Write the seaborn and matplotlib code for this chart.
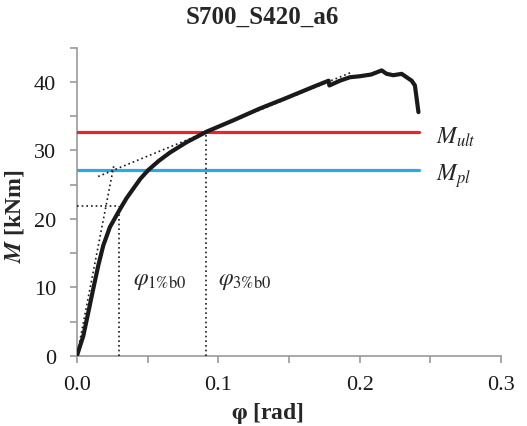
import matplotlib
matplotlib.use("Agg")
import matplotlib.pyplot as plt
import seaborn as sns
import pandas as pd
from matplotlib.ticker import MultipleLocator

# Moment-rotation response
phi = [0.0, 0.0045, 0.0080, 0.0115, 0.0151, 0.0186, 0.0233, 0.0304, 0.0350,
       0.0398, 0.0450, 0.0505, 0.0580, 0.0658, 0.0775, 0.0917, 0.1105,
       0.129, 0.146, 0.1695, 0.178, 0.1785, 0.186, 0.193, 0.200, 0.208,
       0.2155, 0.219, 0.2237, 0.2296, 0.2367, 0.239, 0.2415]
moment = [0.0, 2.9, 6.3, 9.75, 13.2, 16.1, 18.8, 21.4, 23.0,
          24.4, 25.9, 27.15, 28.5, 29.7, 31.2, 32.75, 34.4,
          36.1, 37.5, 39.5, 40.2, 39.5, 40.2, 40.7, 40.85, 41.1,
          41.7, 41.2, 41.0, 41.2, 40.2, 39.5, 35.6]

# Characteristic moments
m_ult = 32.75
m_pl = 27.15
phi_end = 0.242

# Bilinear tangents
init_phi = [0.0, 0.026]
init_m = [0.0, 27.7]
post_phi = [0.015, 0.195]
post_m = [26.2, 41.5]

# Rotations at 1% and 3% b0
phi_1 = 0.030
m_1 = 21.85
phi_3 = 0.0915

sns.set_theme(style="white")
plt.rcParams["font.family"] = ["Liberation Serif", "DejaVu Serif"]
plt.rcParams["mathtext.fontset"] = "stix"

fig = plt.figure(figsize=(5.27, 4.27), dpi=100)
ax = fig.add_axes([0.146, 0.1646, 0.805, 0.721])

df = pd.DataFrame({"phi": phi, "M": moment})
sns.lineplot(data=df, x="phi", y="M", ax=ax, color="#1a1a1a", lw=3.0,
             sort=False, estimator=None, zorder=5)

ax.plot([0, phi_end], [m_ult, m_ult], color="#E8262A", lw=2.3, zorder=3)
ax.plot([0, phi_end], [m_pl, m_pl], color="#29ABE2", lw=2.3, zorder=3)

dot = dict(color="#1a1a1a", lw=1.2, ls=(0, (1, 1.8)), zorder=4)
ax.plot(init_phi, init_m, **dot)
ax.plot(post_phi, post_m, **dot)
ax.plot([0, phi_1], [m_1, m_1], **dot)
ax.plot([phi_1, phi_1], [0, m_1], **dot)
ax.plot([phi_3, phi_3], [0, m_ult], **dot)

ax.text(0.0395, 11.0, r"$\varphi_{\mathrm{1\%b0}}$", fontsize=17, va="center")
ax.text(0.1, 11.0, r"$\varphi_{\mathrm{3\%b0}}$", fontsize=17, va="center")
ax.text(0.254, m_ult - 0.7, r"$M_{ult}$", fontsize=17, va="center")
ax.text(0.254, m_pl - 0.7, r"$M_{pl}$", fontsize=17, va="center")

ax.set_xlim(0, 0.3)
ax.set_ylim(0, 45)
ax.xaxis.set_major_locator(MultipleLocator(0.1))
ax.xaxis.set_minor_locator(MultipleLocator(0.05))
ax.yaxis.set_major_locator(MultipleLocator(10))
ax.yaxis.set_minor_locator(MultipleLocator(5))
ax.set_xticklabels([f"{v:.1f}" for v in ax.get_xticks()])

for side in ["top", "right"]:
    ax.spines[side].set_visible(False)
for side in ["left", "bottom"]:
    ax.spines[side].set_color("#9a9a9a")
    ax.spines[side].set_linewidth(1.2)
ax.tick_params(which="both", direction="out", color="#9a9a9a", width=1.2,
               length=5, labelsize=16, labelcolor="#1a1a1a")
ax.tick_params(axis="x", which="both", bottom=True, pad=9)
ax.tick_params(axis="y", which="both", left=True, pad=10)

ax.set_xlabel(r"$\boldsymbol{\varphi}$ [rad]", fontsize=17, fontweight="bold")
ax.set_ylabel(r"$\boldsymbol{M}$ [kNm]", fontsize=17, fontweight="bold")
ax.xaxis.set_label_coords(0.45, -0.145)
ax.yaxis.set_label_coords(-0.12, 0.457)
fig.text(0.497, 0.960, "S700_S420_a6", fontsize=18, fontweight="bold",
         ha="center", va="center")

fig.savefig("out.png", dpi=100)
